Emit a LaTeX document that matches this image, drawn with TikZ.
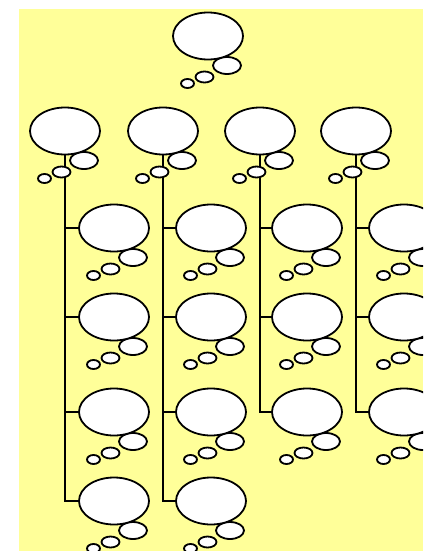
\documentclass[tikz,border=0pt]{standalone}
\usetikzlibrary{shapes.geometric}
\definecolor{bgyellow}{RGB}{255,255,153}
\pgfdeclarelayer{bg}
\pgfdeclarelayer{background}
\pgfsetlayers{bg,background,main}
\tikzset{
  bubble/.style={ellipse, draw=black, fill=white, line width=1.8pt, inner sep=0pt},
  big/.style={bubble, minimum width=70pt, minimum height=47pt},
  med/.style={bubble, minimum width=28pt, minimum height=17pt},
  sml/.style={bubble, minimum width=18pt, minimum height=11pt},
  tny/.style={bubble, minimum width=13pt, minimum height=9pt},
  link/.style={line width=1.8pt, draw=black}
}
\newcommand\thoughtcloud[3]{%
  \node[tny] (#1t) at (#2-20.5,#3+47.5) {};
  \node[sml] (#1s) at (#2-3.5,#3+41) {};
  \node[med] (#1m) at (#2+19,#3+29.5) {};
  \node[big] (#1) at (#2,#3) {};
}
\begin{document}
\begin{tikzpicture}[x=1pt,y=-1pt]
\useasboundingbox (0,0) rectangle (423,551);
\clip (0,0) rectangle (423,551);
\begin{pgfonlayer}{bg}
  \fill[white] (0,0) rectangle (423,551);
  \fill[bgyellow] (19,9) rectangle (423,551);
\end{pgfonlayer}
% top
\thoughtcloud{T}{208}{36}
% level 1
\thoughtcloud{A}{65}{131}
\thoughtcloud{B}{163}{131}
\thoughtcloud{C}{260}{131}
\thoughtcloud{D}{356}{131}
% children
\thoughtcloud{A1}{114}{228}
\thoughtcloud{A2}{114}{317}
\thoughtcloud{A3}{114}{412}
\thoughtcloud{A4}{114}{501}
\thoughtcloud{B1}{211}{228}
\thoughtcloud{B2}{211}{317}
\thoughtcloud{B3}{211}{412}
\thoughtcloud{B4}{211}{501}
\thoughtcloud{C1}{307}{228}
\thoughtcloud{C2}{307}{317}
\thoughtcloud{C3}{307}{412}
\thoughtcloud{D1}{404}{228}
\thoughtcloud{D2}{404}{317}
\thoughtcloud{D3}{404}{412}
\begin{pgfonlayer}{background}
  \draw[link] (A.south) |- (A4.west);
  \draw[link] (A.south |- A1.west) -- (A1.west);
  \draw[link] (A.south |- A2.west) -- (A2.west);
  \draw[link] (A.south |- A3.west) -- (A3.west);
  \draw[link] (B.south) |- (B4.west);
  \draw[link] (B.south |- B1.west) -- (B1.west);
  \draw[link] (B.south |- B2.west) -- (B2.west);
  \draw[link] (B.south |- B3.west) -- (B3.west);
  \draw[link] (C.south) |- (C3.west);
  \draw[link] (C.south |- C1.west) -- (C1.west);
  \draw[link] (C.south |- C2.west) -- (C2.west);
  \draw[link] (D.south) |- (D3.west);
  \draw[link] (D.south |- D1.west) -- (D1.west);
  \draw[link] (D.south |- D2.west) -- (D2.west);
\end{pgfonlayer}
\end{tikzpicture}
\end{document}
